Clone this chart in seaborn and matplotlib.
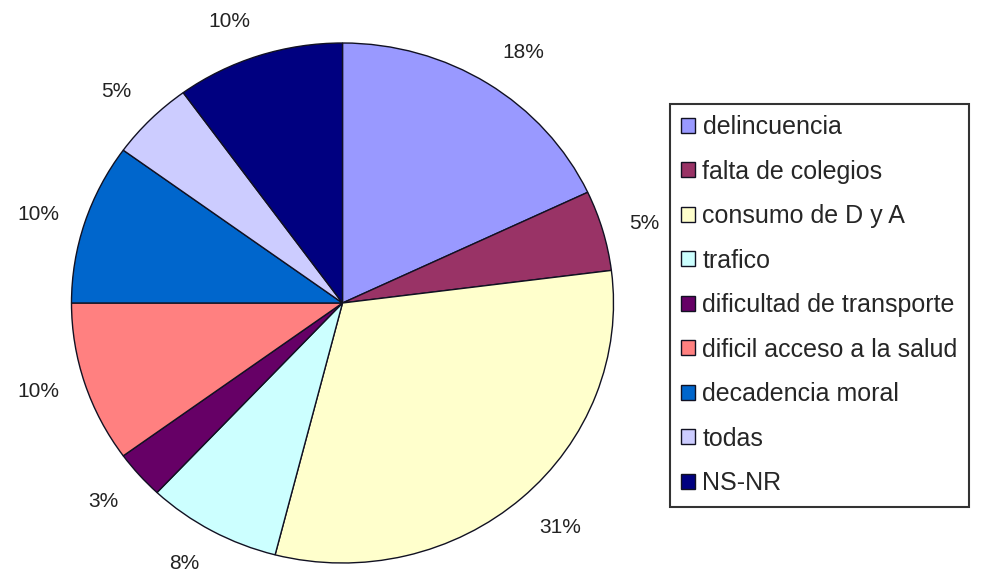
import matplotlib
matplotlib.use("Agg")
import numpy as np
import matplotlib.pyplot as plt
import seaborn as sns

sns.set_style("white")
plt.rcParams['font.family'] = ['Liberation Sans', 'DejaVu Sans']

categories = ['delincuencia', 'falta de colegios', 'consumo de D y A', 'trafico',
              'dificultad de transporte', 'dificil acceso a la salud',
              'decadencia moral', 'todas', 'NS-NR']
values = [18, 5, 31, 8, 3, 10, 10, 5, 10]
pct_labels = ['18%', '5%', '31%', '8%', '3%', '10%', '10%', '5%', '10%']
colors = sns.color_palette(['#9999FF', '#993366', '#FFFFCC', '#CCFFFF', '#660066',
                            '#FF8080', '#0066CC', '#CCCCFF', '#000080'])

W, H = 1001, 574
fig = plt.figure(figsize=(W / 100, H / 100), dpi=100)

# pie center / radii in pixels (slightly squashed ellipse, like the original)
cx, cy, rx, ry = 342.5, 574 - 303, 271, 260
lim = 1.3
ax = fig.add_axes([(cx - lim * rx) / W, (cy - lim * ry) / H,
                   2 * lim * rx / W, 2 * lim * ry / H])

wedges, texts = ax.pie(values, labels=pct_labels, colors=colors, startangle=90,
                       counterclock=False, labeldistance=1.1,
                       wedgeprops=dict(edgecolor='#111122', linewidth=1.0),
                       textprops=dict(fontsize=15, color='#222222'))
# Excel-like label anchoring: labels well above/below sit outside by their box edge
for w, t in zip(wedges, texts):
    s = np.sin(np.radians((w.theta1 + w.theta2) / 2))
    if s > 0.5:
        t.set_verticalalignment('bottom')
    elif s < -0.5:
        t.set_verticalalignment('top')
ax.set_xlim(-lim, lim)
ax.set_ylim(-lim, lim)
ax.set_aspect('auto')
ax.axis('off')

leg = fig.legend(wedges, categories, loc='upper left',
                 bbox_to_anchor=(670 / W, (H - 104) / H), bbox_transform=fig.transFigure,
                 fontsize=18, frameon=True, fancybox=False, handlelength=0.55,
                 handleheight=0.55, handletextpad=0.3, labelspacing=0.82,
                 borderpad=0.45, borderaxespad=0)
leg.get_frame().set_edgecolor('black')
leg.get_frame().set_linewidth(1.5)

fig.savefig("out.png", dpi=100)
